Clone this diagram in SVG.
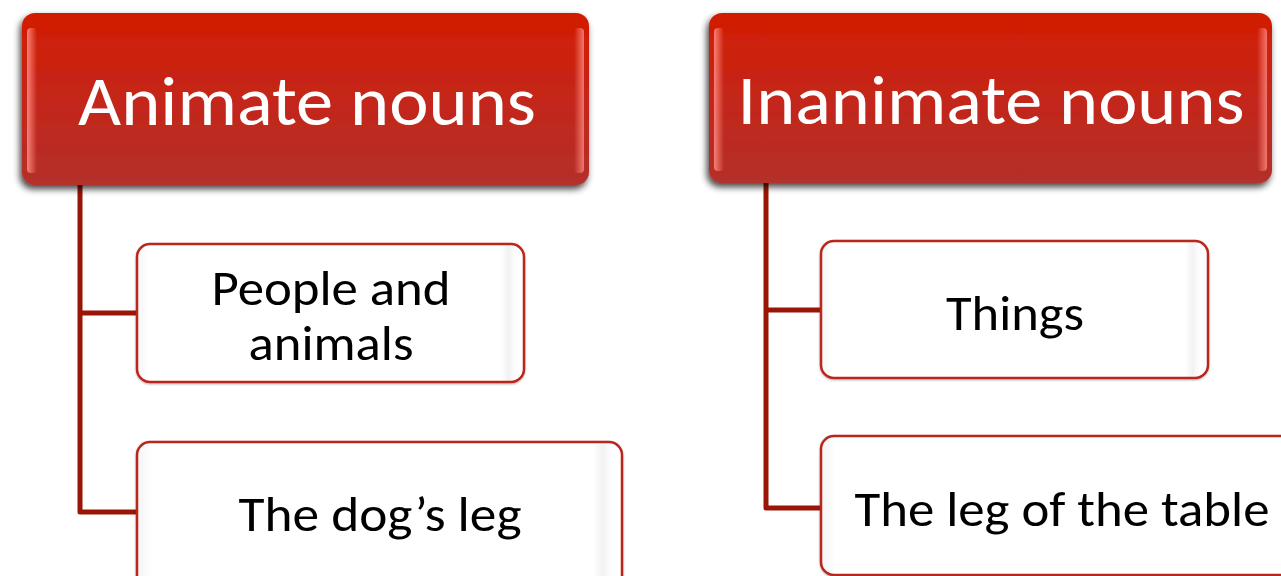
<svg xmlns="http://www.w3.org/2000/svg" width="1281" height="576" viewBox="0 0 1281 576">
<defs>
<linearGradient id="hdrFill" x1="0" y1="0" x2="0" y2="1">
<stop offset="0" stop-color="#d21d00"/>
<stop offset="0.5" stop-color="#c4261a"/>
<stop offset="1" stop-color="#b3302a"/>
</linearGradient>
<linearGradient id="glossL" x1="0" y1="0" x2="1" y2="0">
<stop offset="0" stop-color="#ff8a80" stop-opacity="0.9"/>
<stop offset="1" stop-color="#ff8a80" stop-opacity="0"/>
</linearGradient>
<linearGradient id="glossR" x1="1" y1="0" x2="0" y2="0">
<stop offset="0" stop-color="#ff8a80" stop-opacity="0.8"/>
<stop offset="1" stop-color="#ff8a80" stop-opacity="0"/>
</linearGradient>
<linearGradient id="boxFill" x1="0" y1="0" x2="1" y2="0">
<stop offset="0" stop-color="#f4f4f4"/>
<stop offset="0.03" stop-color="#ffffff"/>
<stop offset="0.94" stop-color="#ffffff"/>
<stop offset="0.96" stop-color="#f2f2f2"/>
<stop offset="0.98" stop-color="#ffffff"/>
</linearGradient>
<filter id="hdrShadow" x="-5%" y="-10%" width="110%" height="130%">
<feGaussianBlur in="SourceAlpha" stdDeviation="3.5"/>
<feOffset dx="-2" dy="4" result="b"/>
<feComponentTransfer><feFuncA type="linear" slope="0.75"/></feComponentTransfer>
<feMerge><feMergeNode/><feMergeNode in="SourceGraphic"/></feMerge>
</filter>
<filter id="boxShadow" x="-5%" y="-10%" width="110%" height="130%">
<feGaussianBlur in="SourceAlpha" stdDeviation="1.2"/>
<feOffset dx="0" dy="1"/>
<feComponentTransfer><feFuncA type="linear" slope="0.3"/></feComponentTransfer>
<feMerge><feMergeNode/><feMergeNode in="SourceGraphic"/></feMerge>
</filter>
</defs>
<style>
.hdr { fill: url(#hdrFill); filter: url(#hdrShadow); }
.hdrText { font-family: Carlito, Calibri, Lato, "Liberation Sans", sans-serif; font-size: 70px; fill: #ffffff; text-anchor: middle; }
.box { fill: url(#boxFill); stroke: #b8261c; stroke-width: 2.5; filter: url(#boxShadow); }
.boxText { font-family: Carlito, Calibri, Lato, "Liberation Sans", sans-serif; font-size: 49px; fill: #000000; text-anchor: middle; }
.conn { fill: none; stroke: #9a1505; stroke-width: 5; stroke-linejoin: round; }
</style>
<rect width="1281" height="576" fill="#ffffff"/>

<g id="connectors">
<path class="conn" d="M80,184 V512 H138 M80,313 H138"/>
<path class="conn" d="M766,183 V508 H822 M766,310 H822"/>
</g>

<g id="header-animate">
<rect class="hdr" x="22" y="13" width="567" height="172" rx="13"/>
<rect x="27" y="28" width="10" height="145" rx="4" fill="url(#glossL)"/>
<rect x="574" y="28" width="10" height="145" rx="4" fill="url(#glossR)"/>
<text class="hdrText" x="307" y="125" textLength="458" lengthAdjust="spacingAndGlyphs">Animate nouns</text>
</g>

<g id="header-inanimate">
<rect class="hdr" x="709" y="13" width="563" height="170" rx="13"/>
<rect x="714" y="28" width="10" height="143" rx="4" fill="url(#glossL)"/>
<rect x="1257" y="28" width="10" height="143" rx="4" fill="url(#glossR)"/>
<text class="hdrText" x="991" y="124" textLength="507" lengthAdjust="spacingAndGlyphs">Inanimate nouns</text>
</g>

<g id="node-people">
<rect class="box" x="137" y="244" width="387" height="138" rx="13"/>
<text class="boxText" x="331" y="305" textLength="239" lengthAdjust="spacingAndGlyphs">People and</text>
<text class="boxText" x="331" y="360" textLength="165" lengthAdjust="spacingAndGlyphs">animals</text>
</g>

<g id="node-dog">
<rect class="box" x="137" y="442" width="485" height="150" rx="13"/>
<text class="boxText" x="380" y="531" textLength="283" lengthAdjust="spacingAndGlyphs">The dog’s leg</text>
</g>

<g id="node-things">
<rect class="box" x="821" y="241" width="387" height="137" rx="13"/>
<text class="boxText" x="1015" y="330" textLength="138" lengthAdjust="spacingAndGlyphs">Things</text>
</g>

<g id="node-table">
<rect class="box" x="821" y="436" width="490" height="139" rx="13"/>
<text class="boxText" x="1062" y="526" textLength="415" lengthAdjust="spacingAndGlyphs">The leg of the table</text>
</g>
</svg>
